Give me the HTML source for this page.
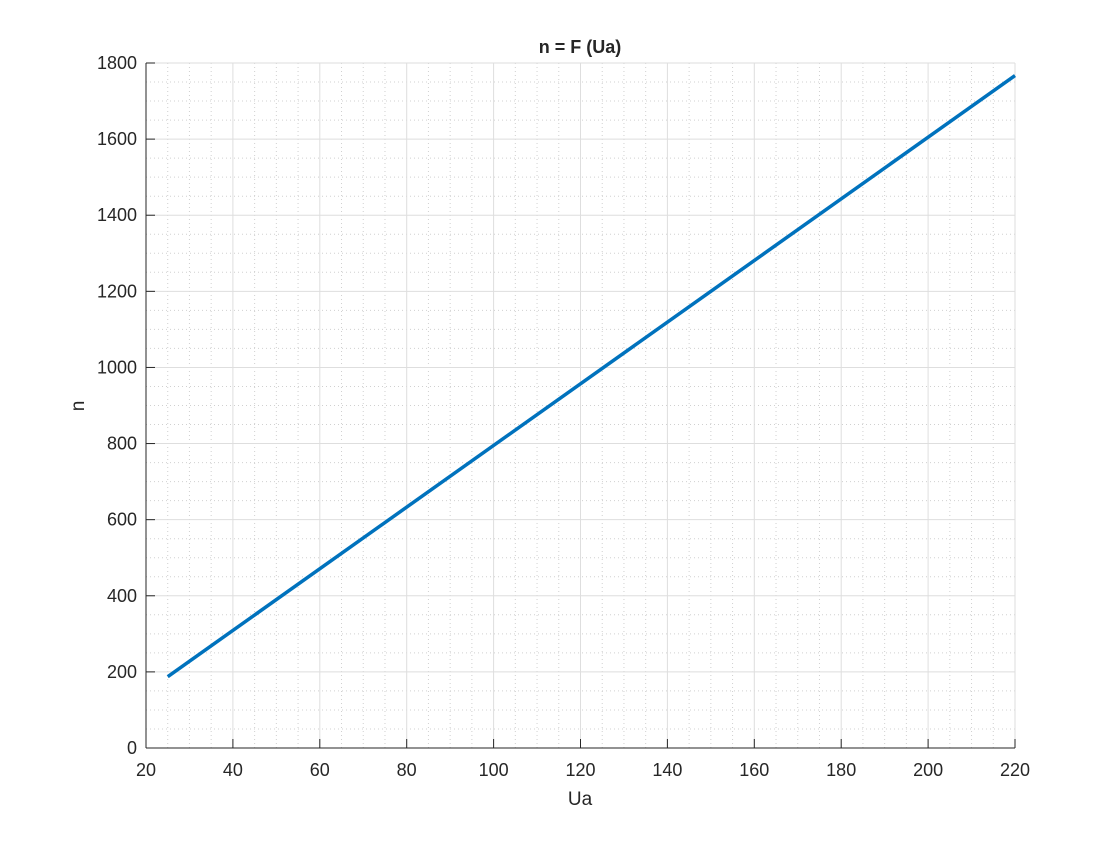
<!DOCTYPE html>
<html><head><meta charset="utf-8"><style>
html,body{margin:0;padding:0;background:#fff;}
svg text{font-family:"Liberation Sans",Arial,sans-serif;fill:#262626;}
</style></head><body>
<svg id="chart" width="1120" height="840" xmlns="http://www.w3.org/2000/svg">
<rect width="1120" height="840" fill="#fff"/>
<g id="grid"></g>
<g id="axes"></g>
<g id="series"></g>
<text x="580" y="53" text-anchor="middle" font-size="18" font-weight="bold">n = F (Ua)</text>
<text x="580" y="805" text-anchor="middle" font-size="19">Ua</text>
<text transform="translate(84,406) rotate(-90)" text-anchor="middle" font-size="19">n</text>
</svg>
<script>
const xTicks=[20,40,60,80,100,120,140,160,180,200,220];
const yTicks=[0,200,400,600,800,1000,1200,1400,1600,1800];
const uaValues=[25,220];
const nValues=[187.5,1767];
const L=146,R=1015,T=63,B=748;
const xMin=20,xMax=220,yMin=0,yMax=1800;
const sx=v=>L+(v-xMin)/(xMax-xMin)*(R-L);
const sy=v=>B-(v-yMin)/(yMax-yMin)*(B-T);
const NS="http://www.w3.org/2000/svg";
function mk(tag,attrs,parent){const e=document.createElementNS(NS,tag);for(const k in attrs)e.setAttribute(k,attrs[k]);parent.appendChild(e);return e;}
const grid=document.getElementById('grid'),axes=document.getElementById('axes'),series=document.getElementById('series');
for(let v=xMin;v<=xMax;v+=5){if(v%20===0)continue;const l=mk('line',{x1:sx(v),x2:sx(v),y1:T,y2:B,stroke:'#d0d0d0','stroke-width':1,'stroke-dasharray':'1,3'},grid);

}
for(let v=yMin;v<=yMax;v+=50){if(v%200===0)continue;const l=mk('line',{x1:L,x2:R,y1:sy(v),y2:sy(v),stroke:'#d0d0d0','stroke-width':1,'stroke-dasharray':'1,3'},grid);

}
xTicks.forEach(v=>{const l=mk('line',{x1:sx(v),x2:sx(v),y1:T,y2:B,stroke:'#dedede','stroke-width':1},grid);


const t=mk('line',{x1:sx(v),x2:sx(v),y1:B,y2:B-9,stroke:'#262626'},axes);


const tx=mk('text',{x:sx(v),y:B+28,'text-anchor':'middle','font-size':18},axes);tx.textContent=v;

});
yTicks.forEach(v=>{const l=mk('line',{x1:L,x2:R,y1:sy(v),y2:sy(v),stroke:'#dedede','stroke-width':1},grid);


const t=mk('line',{x1:L,x2:L+9,y1:sy(v),y2:sy(v),stroke:'#262626'},axes);


const tx=mk('text',{x:L-9,y:sy(v)+6,'text-anchor':'end','font-size':18},axes);tx.textContent=v;

});
const lx=mk('line',{x1:L,x2:R,y1:B,y2:B,stroke:'#262626','stroke-width':1},axes);


const ly=mk('line',{x1:L,x2:L,y1:T,y2:B,stroke:'#262626','stroke-width':1},axes);


const pts=uaValues.map((u,i)=>sx(u)+','+sy(nValues[i])).join(' ');
const pl=mk('polyline',{points:pts,fill:'none',stroke:'#0072bd','stroke-width':3.5},series);


</script>
</body></html>
